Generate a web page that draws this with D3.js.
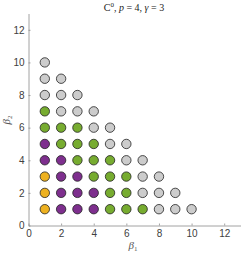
<!DOCTYPE html>
<html>
<head>
<meta charset="utf-8">
<script src="https://cdn.jsdelivr.net/npm/d3@7"></script>
<style>
  body { margin: 0; background: #fff; }
  svg { display: block; }
</style>
</head>
<body>
<div id="chart"></div>
<script>
let w = 241;
let h = 253;

// each row: beta2 value and the colour class of every beta1 = 1..n
let beta2Rows = [1, 2, 3, 4, 5, 6, 7, 8, 9, 10];
let rowClasses = [
  ["y", "p", "p", "p", "g", "g", "g", "n", "n", "n"],
  ["y", "p", "p", "p", "g", "g", "n", "n", "n"],
  ["y", "p", "p", "g", "g", "g", "n", "n"],
  ["p", "p", "g", "g", "g", "n", "n"],
  ["p", "g", "g", "g", "n", "n"],
  ["g", "g", "g", "n", "n"],
  ["g", "n", "n", "n"],
  ["n", "n", "n"],
  ["n", "n"],
  ["n"]
];
let classColors = { y: "#EDB120", p: "#7E2F8E", g: "#77AC30", n: "#CCCCCC" };
let tickValues = [0, 2, 4, 6, 8, 10, 12];

let points = [];
beta2Rows.forEach(function(b2, i) {
  rowClasses[i].forEach(function(c, j) {
    points.push({ b1: j + 1, b2: b2, c: c });
  });
});

let svg = d3.select("#chart")
  .append("svg")
  .attr("width", w)
  .attr("height", h);

let x = d3.scaleLinear().domain([0, 13]).range([28.5, 240.5]);
let y = d3.scaleLinear().domain([0, 13]).range([225.5, 13.5]);

let xAxis = svg.append("g")
  .attr("transform", "translate(0," + y(0) + ")")
  .call(d3.axisBottom(x).tickValues(tickValues).tickSizeInner(-2).tickSizeOuter(0).tickPadding(4));
let yAxis = svg.append("g")
  .attr("transform", "translate(" + x(0) + ",0)")
  .call(d3.axisLeft(y).tickValues(tickValues).tickSizeInner(-2).tickSizeOuter(0).tickPadding(4));

[xAxis, yAxis].forEach(function(a) {
  a.select(".domain").attr("stroke", "#8c8c8c").attr("stroke-width", 0.8);
  a.selectAll(".tick line").attr("stroke", "#8c8c8c").attr("stroke-width", 0.8);
  a.selectAll(".tick text")
    .attr("fill", "#404040")
    .style("font-family", "'Liberation Sans', Arial, sans-serif")
    .style("font-size", "10px");
});
xAxis.selectAll(".tick text").attr("dy", "0.75em");

svg.append("g")
  .selectAll("circle")
  .data(points)
  .enter()
  .append("circle")
  .attr("cx", function(d) { return x(d.b1); })
  .attr("cy", function(d) { return y(d.b2); })
  .attr("r", 4.7)
  .attr("fill", function(d) { return classColors[d.c]; })
  .attr("stroke", "#222")
  .attr("stroke-width", 0.8);

// title
let title = svg.append("text")
  .attr("x", 134)
  .attr("y", 11)
  .attr("text-anchor", "middle")
  .attr("fill", "#222")
  .style("font-family", "'Liberation Serif', 'DejaVu Serif', serif")
  .style("font-size", "10px");
title.append("tspan").text("C");
title.append("tspan").attr("dy", -4).style("font-size", "7px").text("0");
title.append("tspan").attr("dy", 4).text(", ");
title.append("tspan").style("font-style", "italic").text("p");
title.append("tspan").text(" = 4, ");
title.append("tspan").style("font-style", "italic").text("γ");
title.append("tspan").text(" = 3");

// x label
let xl = svg.append("text")
  .attr("x", 133)
  .attr("y", 249)
  .attr("text-anchor", "middle")
  .attr("fill", "#555")
  .style("font-family", "'Liberation Serif', 'DejaVu Serif', serif")
  .style("font-size", "11px");
xl.append("tspan").style("font-style", "italic").text("β");
xl.append("tspan").attr("dy", 2).style("font-size", "7px").text("1");

// y label
let yl = svg.append("text")
  .attr("transform", "translate(10,120) rotate(-90)")
  .attr("text-anchor", "middle")
  .attr("fill", "#555")
  .style("font-family", "'Liberation Serif', 'DejaVu Serif', serif")
  .style("font-size", "11px");
yl.append("tspan").style("font-style", "italic").text("β");
yl.append("tspan").attr("dy", 2).style("font-size", "7px").text("2");
</script>
</body>
</html>
